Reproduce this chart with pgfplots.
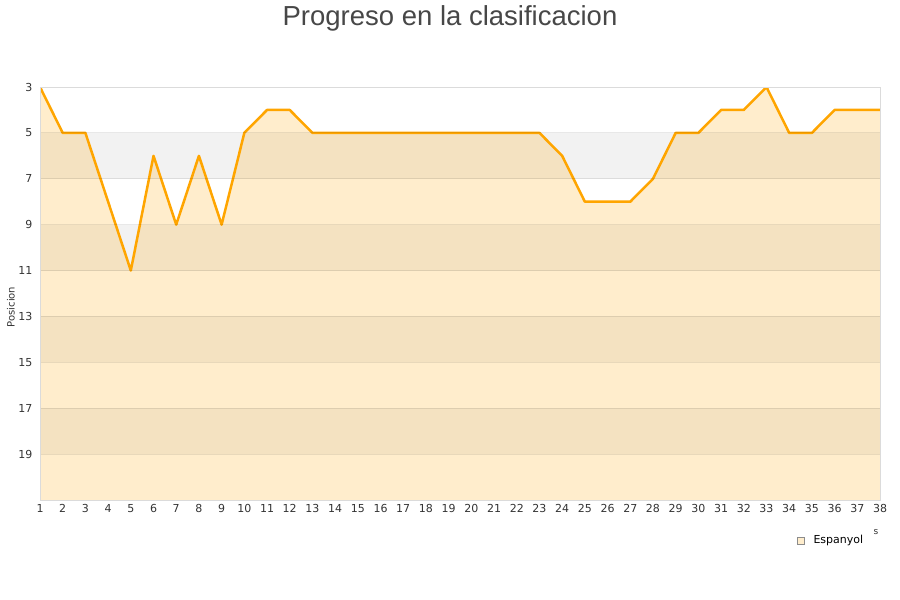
\documentclass[border=0pt]{standalone}
\usepackage{pgfplots}
\pgfplotsset{compat=1.18}
\usepackage{fontspec}
\setmainfont{DejaVu Sans}
\newfontfamily\titlefont{Liberation Sans}

\definecolor{lineorange}{HTML}{FFA500}
\definecolor{bandgray}{HTML}{F2F2F2}
\definecolor{txtgray}{HTML}{333333}

\begin{document}
\begin{tikzpicture}
  \useasboundingbox (0pt,0pt) rectangle (900pt,600pt);

  \begin{axis}[
    at={(40pt,100pt)}, anchor=south west,
    width=840pt, height=413pt, scale only axis,
    xmin=1, xmax=38, ymin=3, ymax=21,
    y dir=reverse,
    xtick={1,...,38},
    ytick={3,5,...,19},
    major tick length=0pt,
    ymajorgrids,
    grid style={black, opacity=0.09, line width=0.8pt},
    axis line style={black!14, line width=0.8pt},
    axis on top,
    tick label style={font=\fontsize{11}{12}\selectfont, text=txtgray},
    /pgf/number format/assume math mode=true,
    xticklabel style={yshift=-1pt},
    yticklabel style={xshift=-4pt},
  ]
    % alternating bands
    \fill[bandgray] (axis cs:1,5) rectangle (axis cs:38,7);
    \fill[bandgray] (axis cs:1,9) rectangle (axis cs:38,11);
    \fill[bandgray] (axis cs:1,13) rectangle (axis cs:38,15);
    \fill[bandgray] (axis cs:1,17) rectangle (axis cs:38,19);

    % area under the position line
    \addplot[draw=none, fill=lineorange, fill opacity=0.2] coordinates {
      (1,3) (2,5) (3,5) (4,8) (5,11) (6,6) (7,9) (8,6) (9,9) (10,5)
      (11,4) (12,4) (13,5) (14,5) (15,5) (16,5) (17,5) (18,5) (19,5) (20,5)
      (21,5) (22,5) (23,5) (24,6) (25,8) (26,8) (27,8) (28,7) (29,5) (30,5)
      (31,4) (32,4) (33,3) (34,5) (35,5) (36,4) (37,4) (38,4)
      (38,21) (1,21)
    };

    \addplot[lineorange, line width=2.5pt, line join=round, mark=none] coordinates {
      (1,3) (2,5) (3,5) (4,8) (5,11) (6,6) (7,9) (8,6) (9,9) (10,5)
      (11,4) (12,4) (13,5) (14,5) (15,5) (16,5) (17,5) (18,5) (19,5) (20,5)
      (21,5) (22,5) (23,5) (24,6) (25,8) (26,8) (27,8) (28,7) (29,5) (30,5)
      (31,4) (32,4) (33,3) (34,5) (35,5) (36,4) (37,4) (38,4)
    };
  \end{axis}

  % title
  \node[font=\titlefont\fontsize{27.5}{30}\selectfont, text=black!72] at (450pt,582pt) {Progreso en la clasificacion};
  % y label
  \node[rotate=90, font=\fontsize{10}{11}\selectfont, text=txtgray] at (11pt,293pt) {Posicion};
  % truncated x label
  \node[font=\fontsize{9}{10}\selectfont, text=txtgray] at (876pt,68pt) {s};
  % legend
  \draw[black!45, fill=lineorange!20, line width=0.6pt] (797pt,56pt) rectangle (804pt,63pt);
  \node[anchor=west, font=\fontsize{11}{12}\selectfont, text=black] at (810pt,60pt) {Espanyol};
\end{tikzpicture}
\end{document}
